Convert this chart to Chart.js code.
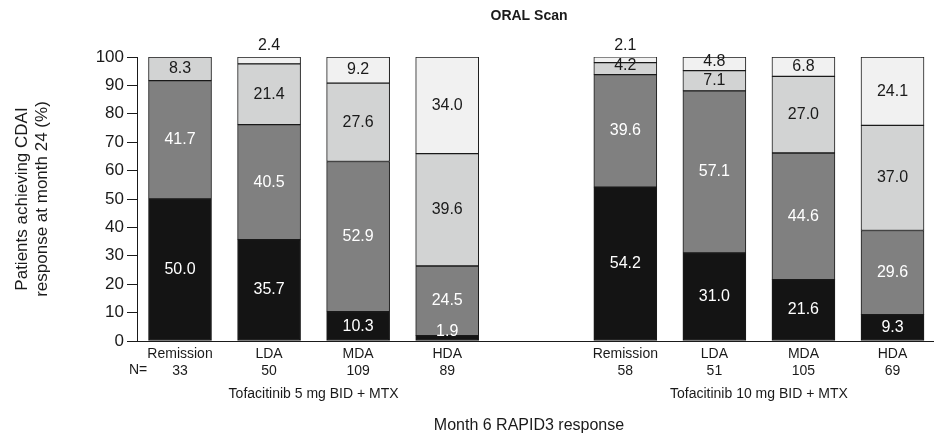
<!DOCTYPE html>
<html>
<head>
<meta charset="utf-8">
<script src="https://cdn.jsdelivr.net/npm/chart.js@4.4.1/dist/chart.umd.min.js"></script>
<style>
  html, body { margin: 0; background: #fff; }
  #wrap { width: 934px; height: 440px; }
</style>
</head>
<body>
<div id="wrap"><canvas id="chart"></canvas></div>
<script>
// Month 6 RAPID3 categories, per treatment group
const categories = ['Remission', 'LDA', 'MDA', 'HDA'];
const groups = ['Tofacitinib 5 mg BID + MTX', 'Tofacitinib 10 mg BID + MTX'];
const nFive = [33, 50, 109, 89];
const nTen = [58, 51, 105, 69];
// bar slots on the x axis (slot 4 is the gap between the groups)
const xPositions = [0, 1, 2, 3, 5, 6, 7, 8];

// Month 24 CDAI response (%), bottom to top of each bar
const remission24 = [50.0, 35.7, 10.3, 1.9, 54.2, 31.0, 21.6, 9.3];
const lda24       = [41.7, 40.5, 52.9, 24.5, 39.6, 57.1, 44.6, 29.6];
const mda24       = [8.3, 21.4, 27.6, 39.6, 4.2, 7.1, 27.0, 37.0];
const hda24       = [0, 2.4, 9.2, 34.0, 2.1, 4.8, 6.8, 24.1];

const yTicks = [0, 10, 20, 30, 40, 50, 60, 70, 80, 90, 100];

const FONT = '"Liberation Sans", Arial, Helvetica, sans-serif';
Chart.defaults.font.family = FONT;

function points(arr) {
  return xPositions.map((x, i) => ({ x: x, y: arr[i] ? arr[i] : null }));
}

function series(label, arr, color) {
  return {
    label: label,
    data: points(arr),
    backgroundColor: color,
    borderColor: '#1a1a1a',
    borderWidth: 1,
    borderSkipped: false,
    barThickness: 63
  };
}

// value labels inside / above each segment
const valueLabels = {
  id: 'valueLabels',
  afterDatasetsDraw(chart) {
    const ctx = chart.ctx;
    ctx.save();
    ctx.font = '16px ' + FONT;
    ctx.textAlign = 'center';
    ctx.textBaseline = 'middle';
    chart.data.datasets.forEach((ds, di) => {
      chart.getDatasetMeta(di).data.forEach((bar, i) => {
        const v = ds.data[i].y;
        if (v == null) return;
        let y = (bar.y + bar.base) / 2;
        ctx.fillStyle = di < 2 ? '#fff' : '#1a1a1a';
        if (di === 3 && v < 3) y = bar.y - 11;   // tiny top slice: label above the bar
        y = Math.min(y, bar.base - 9);
        ctx.fillText(v.toFixed(1), bar.x, y);
      });
    });
    ctx.restore();
  }
};

// titles and group captions
const captions = {
  id: 'captions',
  afterDraw(chart) {
    const ctx = chart.ctx;
    const xs = chart.scales.x;
    const ys = chart.scales.y;
    ctx.save();
    ctx.fillStyle = '#1a1a1a';
    ctx.textBaseline = 'middle';
    ctx.textAlign = 'center';

    ctx.font = 'bold 14px ' + FONT;
    ctx.fillText('ORAL Scan', 529, 16);

    ctx.font = '14px ' + FONT;
    const g1 = (xs.getPixelForValue(0) + xs.getPixelForValue(3)) / 2;
    const g2 = (xs.getPixelForValue(5) + xs.getPixelForValue(8)) / 2;
    ctx.fillText(groups[0], g1, 394);
    ctx.fillText(groups[1], g2, 394);

    ctx.font = '16px ' + FONT;
    ctx.fillText('Month 6 RAPID3 response', 529, 426);

    ctx.font = '14px ' + FONT;
    ctx.textAlign = 'left';
    ctx.fillText('N=', 129, 370);

    ctx.font = '17px ' + FONT;
    ctx.textAlign = 'center';
    ctx.translate(0, (ys.top + ys.bottom) / 2);
    ctx.rotate(-Math.PI / 2);
    ctx.fillText('Patients achieving CDAI', 0, 22);
    ctx.fillText('response at month 24 (%)', 0, 42);
    ctx.restore();
  }
};

new Chart(document.getElementById('chart'), {
  type: 'bar',
  data: {
    datasets: [
      series('Remission', remission24, '#141414'),
      series('LDA', lda24, '#808080'),
      series('MDA', mda24, '#d2d3d3'),
      series('HDA', hda24, '#f1f1f1')
    ]
  },
  options: {
    responsive: true,
    maintainAspectRatio: false,
    animation: false,
    layout: { padding: { top: 57, left: 0, right: 0, bottom: 0 } },
    plugins: { legend: { display: false }, tooltip: { enabled: false } },
    scales: {
      x: {
        type: 'linear',
        stacked: true,
        offset: false,
        min: -0.483,
        max: 8.466,
        afterBuildTicks: s => { s.ticks = xPositions.map(v => ({ value: v })); },
        afterFit: s => { s.height = 99; },
        grid: { display: false, drawTicks: false },
        border: { display: true, color: '#1a1a1a', width: 1 },
        ticks: {
          autoSkip: false,
          maxRotation: 0,
          padding: 5,
          color: '#1a1a1a',
          font: { size: 14 },
          callback: v => {
            const i = xPositions.indexOf(v);
            if (i < 0) return '';
            return [categories[i % 4], String(i < 4 ? nFive[i] : nTen[i - 4])];
          }
        }
      },
      y: {
        stacked: true,
        min: 0,
        max: 100,
        afterBuildTicks: s => { s.ticks = yTicks.map(v => ({ value: v })); },
        afterFit: s => { s.width = 137; },
        grid: { display: true, drawOnChartArea: false, drawTicks: true, tickLength: 10, color: '#1a1a1a' },
        border: { display: true, color: '#1a1a1a', width: 1 },
        ticks: { padding: 3, color: '#1a1a1a', font: { size: 17 } }
      }
    }
  },
  plugins: [valueLabels, captions]
});
</script>
</body>
</html>
